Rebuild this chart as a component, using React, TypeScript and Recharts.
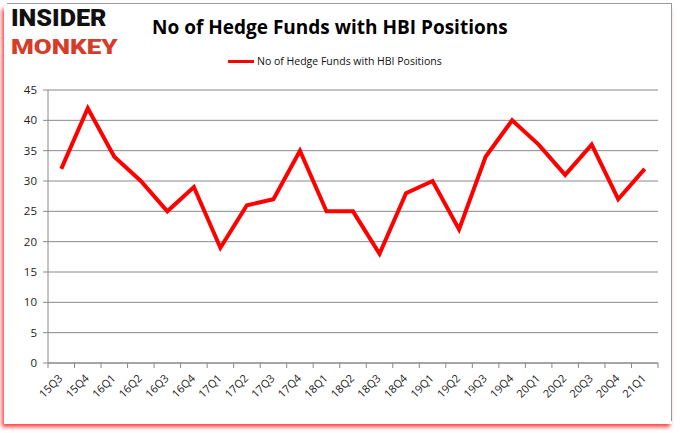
import React from 'react';
import { LineChart, Line, XAxis, YAxis, CartesianGrid } from 'recharts';

const quarters = ['15Q3','15Q4','16Q1','16Q2','16Q3','16Q4','17Q1','17Q2','17Q3','17Q4','18Q1','18Q2','18Q3','18Q4','19Q1','19Q2','19Q3','19Q4','20Q1','20Q2','20Q3','20Q4','21Q1'];
const funds = [32,42,34,30,25,29,19,26,27,35,25,25,18,28,30,22,34,40,36,31,36,27,32];
const yTicks = [0,5,10,15,20,25,30,35,40,45];
const seriesName = 'No of Hedge Funds with HBI Positions';
const titleText = 'No of Hedge Funds with HBI Positions';

const data = quarters.map((q, i) => ({ q, v: funds[i] }));

const FONT = '"Open Sans", "Noto Sans", sans-serif';

const XTick = (props: any) => {
  const { x, y, payload, index, width, visibleTicksCount } = props;
  const band = width / visibleTicksCount;
  const axisY = y - 8;
  return (
    <g>
      <line x1={x - band / 2} x2={x - band / 2} y1={axisY} y2={axisY + 5} stroke="#888" />
      {index === visibleTicksCount - 1 && (
        <line x1={x + band / 2} x2={x + band / 2} y1={axisY} y2={axisY + 5} stroke="#888" />
      )}
      <text
        x={x + 2}
        y={y + 8}
        textAnchor="end"
        transform={`rotate(-45, ${x + 2}, ${y + 8})`}
        fontSize={11}
        fontFamily={FONT}
        fill="#222"
      >
        {payload.value}
      </text>
    </g>
  );
};

export default function App() {
  return (
    <div style={{ position: 'absolute', left: 0, top: 0, width: 680, height: 433, background: '#fff', overflow: 'hidden' }}>
      {/* frame */}
      <div style={{ position: 'absolute', left: 4, top: 6, width: 668, height: 418, boxShadow: '-2px 3px 4px rgba(255,0,0,0.75)', background: '#fff' }} />
      <div style={{ position: 'absolute', left: 7, top: 3, width: 664, height: 417, border: '1px solid #999', borderBottom: 'none', borderLeft: 'none', background: '#fff' }} />
      {/* logo */}
      <div style={{ position: 'absolute', left: 11, top: 6, fontFamily: 'Roboto, "DejaVu Sans", sans-serif', fontWeight: 900, fontSize: 24, lineHeight: 1, color: '#111', whiteSpace: 'nowrap', transform: 'scaleX(1.05)', transformOrigin: 'left top' }}>
        INSIDER
      </div>
      <div style={{ position: 'absolute', left: 11, top: 37, fontFamily: 'Roboto, "DejaVu Sans", sans-serif', fontWeight: 900, fontSize: 21, lineHeight: 1, color: '#d63c2a', whiteSpace: 'nowrap', transform: 'scaleX(1.24)', transformOrigin: 'left top' }}>
        MONKEY
      </div>
      {/* title */}
      <div style={{ position: 'absolute', left: 152, top: 14, fontFamily: FONT, fontWeight: 700, fontSize: 19, color: '#000', whiteSpace: 'nowrap' }}>
        {titleText}
      </div>
      {/* legend */}
      <div style={{ position: 'absolute', left: 228, top: 54, display: 'flex', alignItems: 'center', fontFamily: FONT, fontSize: 10.5, color: '#111', whiteSpace: 'nowrap' }}>
        <div style={{ width: 26, height: 3, background: '#ff0000', marginRight: 3 }} />
        <span>{seriesName}</span>
      </div>
      <div style={{ position: 'absolute', left: 0, top: 0 }}>
        <LineChart width={680} height={433} data={data} margin={{ top: 90, right: 22, left: 0, bottom: 0 }}>
          <CartesianGrid vertical={false} stroke="#888" strokeWidth={1} />
          <XAxis
            dataKey="q"
            scale="band"
            height={70}
            interval={0}
            tick={<XTick />}
            tickLine={false}
            axisLine={{ stroke: '#888' }}
          />
          <YAxis
            width={48}
            domain={[0, 45]}
            ticks={yTicks}
            interval={0}
            tickSize={5}
            tickMargin={6}
            tickLine={{ stroke: '#888' }}
            axisLine={{ stroke: '#888' }}
            tick={{ fontSize: 11.5, fontFamily: FONT, fill: '#222' }}
          />
          <Line
            type="linear"
            dataKey="v"
            name={seriesName}
            stroke="#ff0000"
            strokeWidth={4}
            dot={false}
            activeDot={false}
            isAnimationActive={false}
          />
        </LineChart>
      </div>
    </div>
  );
}
